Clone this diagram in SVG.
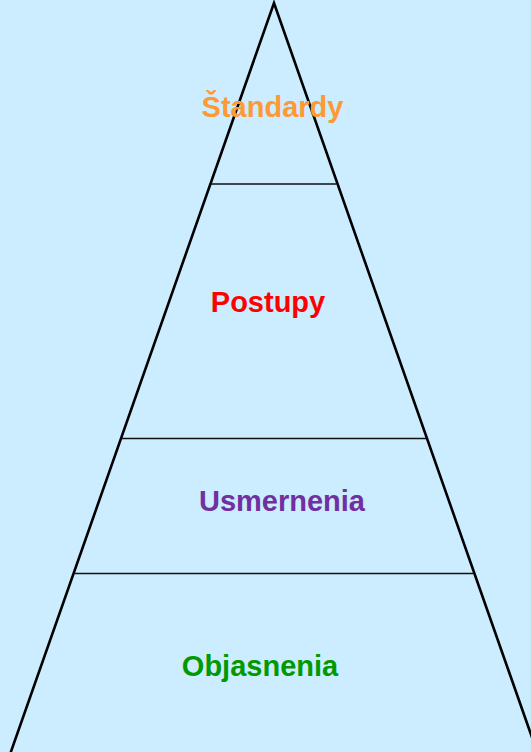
<svg xmlns="http://www.w3.org/2000/svg" width="531" height="752" viewBox="0 0 531 752">
<style>
.lbl{font-family:"Liberation Sans",Arial,sans-serif;font-weight:bold;font-size:29px;text-anchor:middle}
.div{stroke:#111;stroke-width:1.3}
</style>
<rect width="531" height="752" fill="#CCECFF"/>
<g id="pyramid">
<path d="M10.5,753 L274,3 L537.5,753" fill="none" stroke="#000" stroke-width="2.6" stroke-linejoin="miter"/>
</g>
<g id="connectors">
<line class="div" x1="210.5" y1="184" x2="336.5" y2="184"/>
<line class="div" x1="121.5" y1="438.5" x2="426.5" y2="438.5"/>
<line class="div" x1="74" y1="573.5" x2="474" y2="573.5"/>
</g>
<g id="standardy"><text class="lbl" x="272.5" y="117" fill="#FF9933">Štandardy</text></g>
<g id="postupy"><text class="lbl" x="268" y="312" fill="#FF0000">Postupy</text></g>
<g id="usmernenia"><text class="lbl" x="282" y="511" fill="#7030A0">Usmernenia</text></g>
<g id="objasnenia"><text class="lbl" x="260" y="676" fill="#009900">Objasnenia</text></g>
</svg>
